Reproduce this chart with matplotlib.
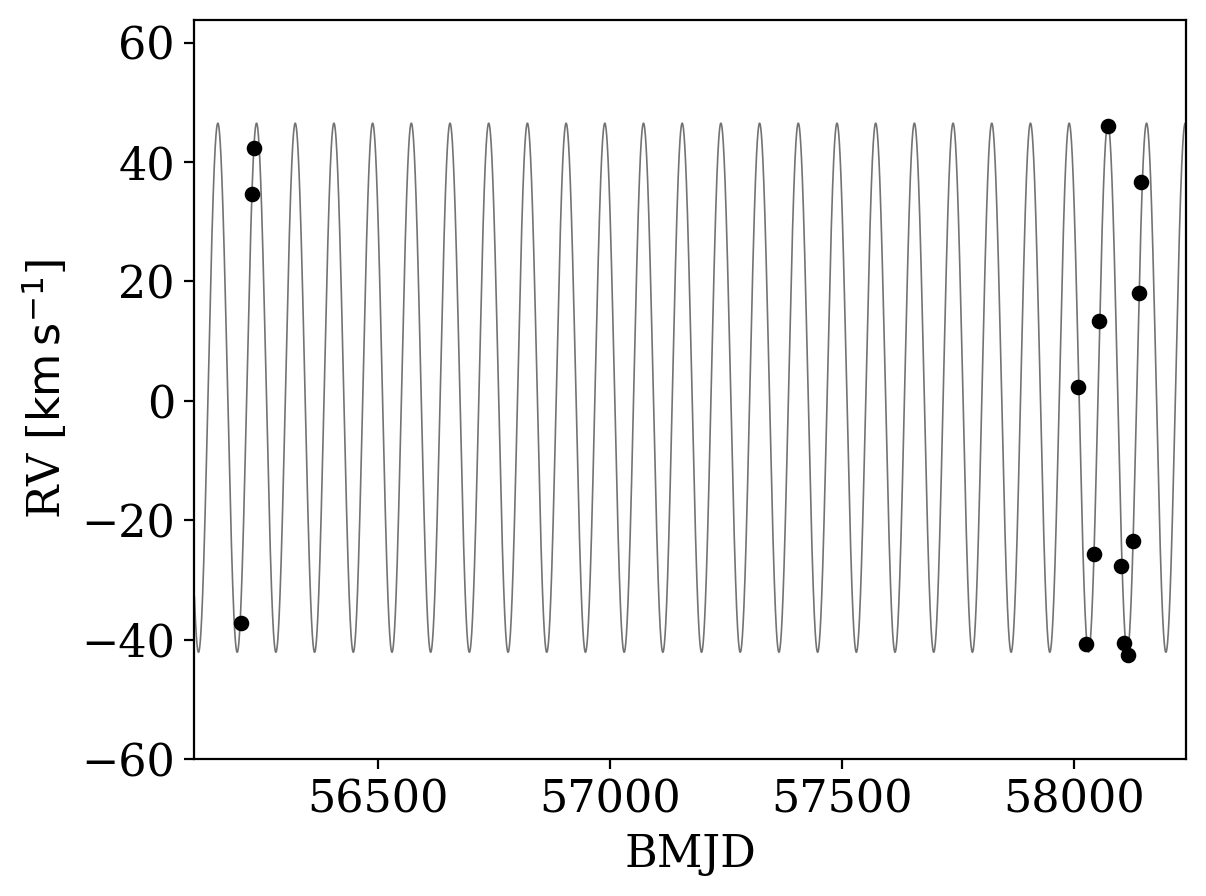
import matplotlib
matplotlib.use("Agg")
import matplotlib.pyplot as plt
import numpy as np

plt.rcParams['font.family'] = 'serif'
plt.rcParams['font.serif'] = ['DejaVu Serif']
plt.rcParams['font.size'] = 16

# observed radial velocities
bmjd = [56205.0, 56229.0, 56233.4,
        58008.3, 58027.3, 58042.7, 58053.6, 58073.4,
        58102.4, 58108.9, 58116.8, 58126.8, 58139.8, 58145.6]
rv = [-37.2, 34.7, 42.4,
      2.4, -40.8, -25.6, 13.3, 46.0,
      -27.7, -40.5, -42.5, -23.4, 18.0, 36.6]

# orbit model (circular)
period = 83.4
K = 44.3
v0 = 2.2
t_peak = 56155.4

t_min, t_max = 56105, 58243

t = np.linspace(t_min, t_max, 20000)
model = v0 + K * np.cos(2 * np.pi * (t - t_peak) / period)

fig, ax = plt.subplots(figsize=(6.4, 4.8))
ax.plot(t, model, color='0.45', lw=0.6, zorder=1)
ax.plot(bmjd, rv, 'o', color='k', ms=4.6, zorder=2)

ax.set_xlim(t_min, t_max)
ax.set_ylim(-60, 63.8)
ax.set_xticks([56500, 57000, 57500, 58000])
ax.set_xlabel('BMJD')
ax.set_ylabel(r'RV [$\mathrm{km\,s^{-1}}$]')

fig.savefig('out.png', dpi=200, bbox_inches='tight')
